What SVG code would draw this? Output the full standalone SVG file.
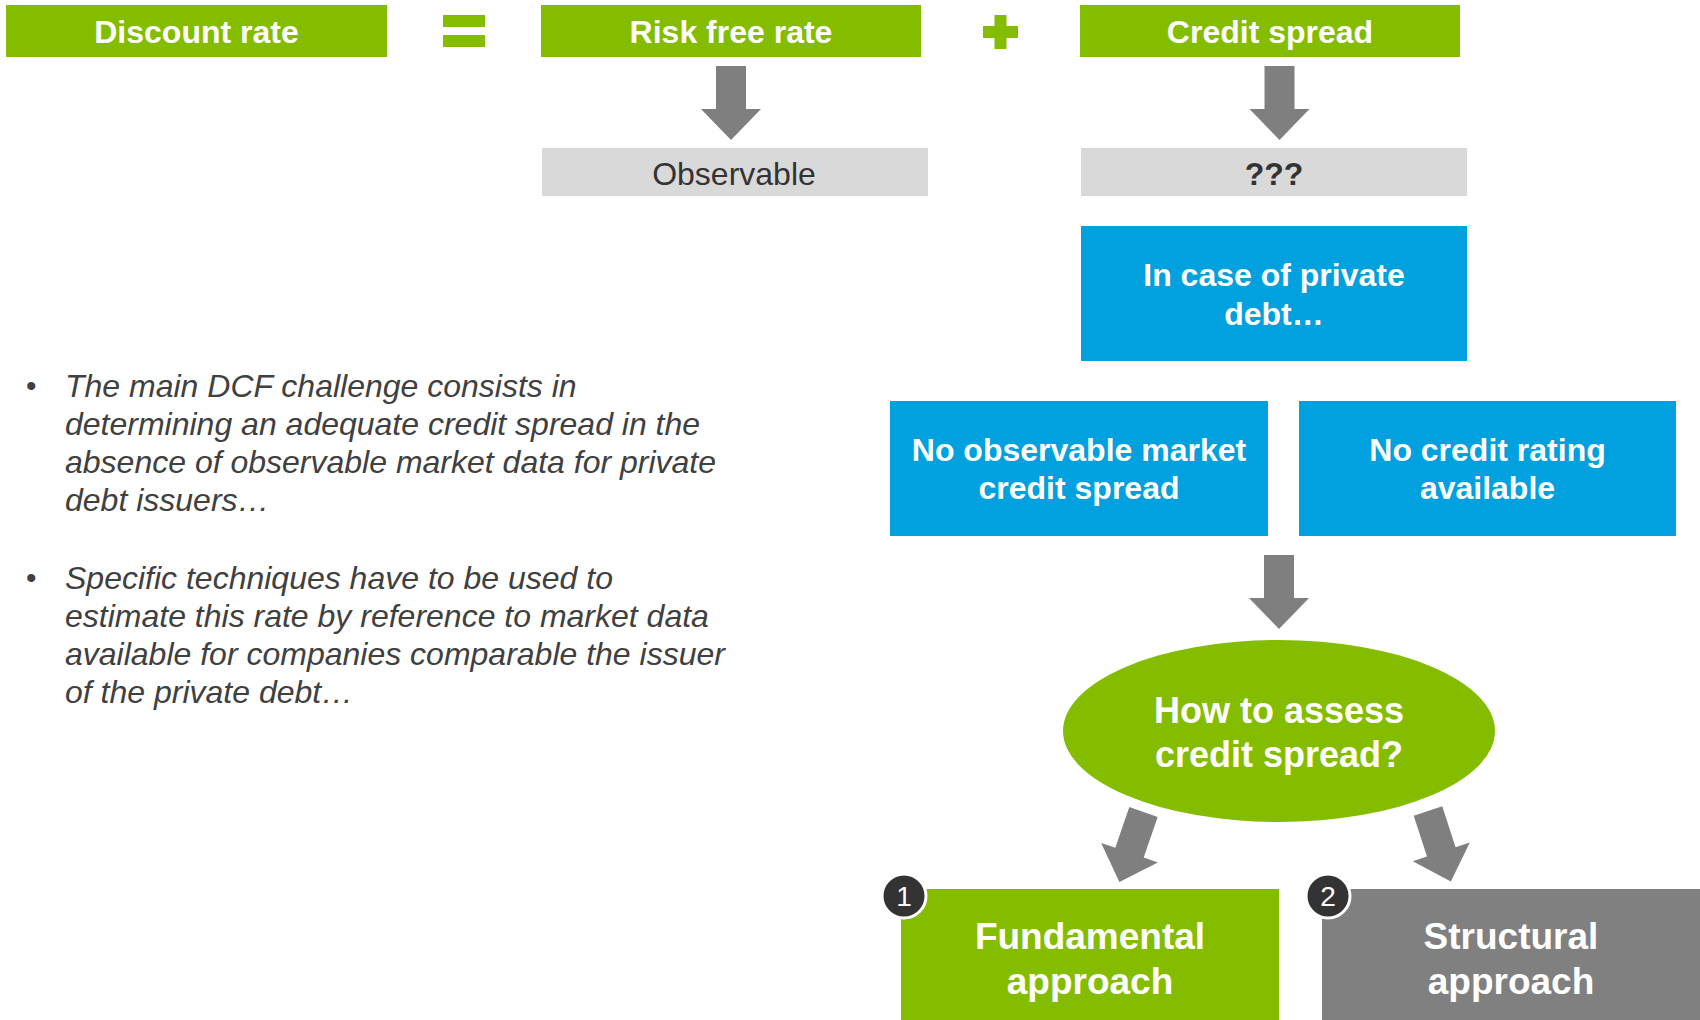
<svg xmlns="http://www.w3.org/2000/svg" xmlns:xlink="http://www.w3.org/1999/xlink" width="1700" height="1020" viewBox="0 0 1700 1020">
  <style>
    text { font-family: "Liberation Sans", Arial, sans-serif; }
    .green { fill: #84bd00; }
    .blue { fill: #00a1de; }
    .grey { fill: #d9d9d9; }
    .dark { fill: #808080; }
    .head { font-size: 32px; font-weight: bold; fill: #ffffff; text-anchor: middle; }
    .big { font-size: 36px; font-weight: bold; fill: #ffffff; text-anchor: middle; }
    .bigger { font-size: 37px; font-weight: bold; fill: #ffffff; text-anchor: middle; }
    .note { font-size: 32px; fill: #333333; text-anchor: middle; }
    .body { font-size: 32px; font-style: italic; fill: #404040; }
    .bullet { font-size: 30px; fill: #404040; }
    .badge circle { fill: #333333; stroke: #ffffff; stroke-width: 3; }
    .badge text { font-size: 28px; fill: #ffffff; text-anchor: middle; }
    .arrow { fill: #7f7f7f; }
  </style>
  <defs>
    <!-- block arrow pointing down, origin at top centre of shaft -->
    <path id="blockArrow" d="M-15,0 H15 V43 H30 L0,74 L-30,43 H-15 Z"/>
  </defs>

  <rect width="1700" height="1020" fill="#ffffff"/>

  <!-- equation row -->
  <g id="discount-rate">
    <rect class="green" x="6" y="5" width="381" height="52"/>
    <text class="head" x="196.5" y="43">Discount rate</text>
  </g>
  <g id="equals-sign" class="green">
    <rect x="443" y="15" width="42" height="12"/>
    <rect x="443" y="35" width="42" height="12"/>
  </g>
  <g id="risk-free-rate">
    <rect class="green" x="541" y="5" width="380" height="52"/>
    <text class="head" x="731" y="43">Risk free rate</text>
  </g>
  <g id="plus-sign" class="green">
    <rect x="983" y="26" width="35" height="12"/>
    <rect x="994.5" y="15" width="12" height="34"/>
  </g>
  <g id="credit-spread">
    <rect class="green" x="1080" y="5" width="380" height="52"/>
    <text class="head" x="1270" y="43">Credit spread</text>
  </g>

  <!-- second row -->
  <g id="observable">
    <rect class="grey" x="542" y="148" width="386" height="48"/>
    <text class="note" x="734" y="185">Observable</text>
  </g>
  <g id="unknown">
    <rect class="grey" x="1081" y="148" width="386" height="48"/>
    <text class="note" x="1274" y="185" font-weight="bold">???</text>
  </g>

  <g id="private-debt">
    <rect class="blue" x="1081" y="226" width="386" height="135"/>
    <text class="head" x="1274" y="286">In case of private</text>
    <text class="head" x="1274" y="325">debt…</text>
  </g>

  <g id="no-market-spread">
    <rect class="blue" x="890" y="401" width="378" height="135"/>
    <text class="head" x="1079" y="461">No observable market</text>
    <text class="head" x="1079" y="499">credit spread</text>
  </g>
  <g id="no-rating">
    <rect class="blue" x="1299" y="401" width="377" height="135"/>
    <text class="head" x="1487.5" y="461">No credit rating</text>
    <text class="head" x="1487.5" y="499">available</text>
  </g>

  <g id="assess-question">
    <ellipse class="green" cx="1279" cy="731" rx="216" ry="91"/>
    <text class="big" x="1279" y="723">How to assess</text>
    <text class="big" x="1279" y="767">credit spread?</text>
  </g>

  <g id="fundamental-approach">
    <rect class="green" x="901" y="889" width="378" height="140"/>
    <text class="bigger" x="1090" y="949">Fundamental</text>
    <text class="bigger" x="1090" y="994">approach</text>
    <g class="badge">
      <circle cx="904" cy="896" r="22"/>
      <text x="904" y="906">1</text>
    </g>
  </g>

  <g id="structural-approach">
    <rect class="dark" x="1322" y="889" width="400" height="140"/>
    <text class="bigger" x="1511" y="949">Structural</text>
    <text class="bigger" x="1511" y="994">approach</text>
    <g class="badge">
      <circle cx="1328" cy="896" r="22"/>
      <text x="1328" y="906">2</text>
    </g>
  </g>

  <!-- commentary -->
  <g id="commentary">
    <text class="bullet" x="26" y="396">•</text>
    <text class="body" x="65" y="397">The main DCF challenge consists in</text>
    <text class="body" x="65" y="435">determining an adequate credit spread in the</text>
    <text class="body" x="65" y="473">absence of observable market data for private</text>
    <text class="body" x="65" y="511">debt issuers…</text>
    <text class="bullet" x="26" y="588">•</text>
    <text class="body" x="65" y="589">Specific techniques have to be used to</text>
    <text class="body" x="65" y="627">estimate this rate by reference to market data</text>
    <text class="body" x="65" y="665">available for companies comparable the issuer</text>
    <text class="body" x="65" y="703">of the private debt…</text>
  </g>

  <!-- connectors -->
  <g id="connectors" class="arrow">
    <use xlink:href="#blockArrow" transform="translate(731,66)"/>
    <use xlink:href="#blockArrow" transform="translate(1279.5,66)"/>
    <use xlink:href="#blockArrow" transform="translate(1279,555)"/>
    <use xlink:href="#blockArrow" transform="translate(1143.5,812) rotate(19)"/>
    <use xlink:href="#blockArrow" transform="translate(1428,811) rotate(-18)"/>
  </g>
</svg>
